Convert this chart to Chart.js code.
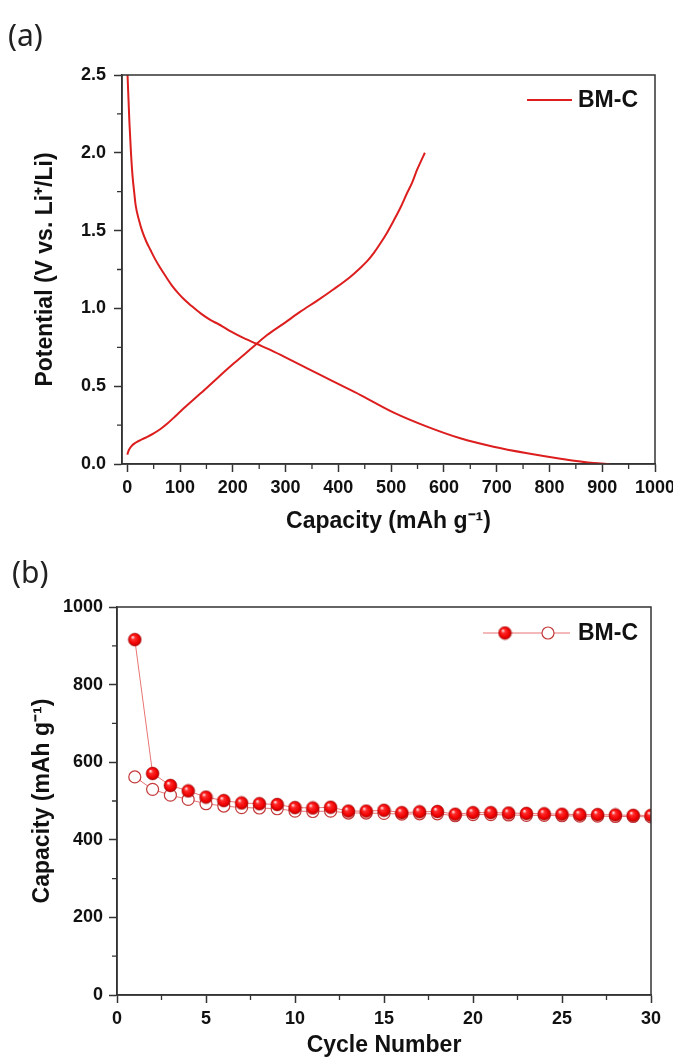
<!DOCTYPE html>
<html>
<head>
<meta charset="utf-8">
<script src="https://cdn.jsdelivr.net/npm/chart.js@4.4.1/dist/chart.umd.min.js"></script>
<style>
  body { margin: 0; background: #fff; width: 673px; height: 1057px; overflow: hidden; position: relative; }
  .panel { position: absolute; left: 0; width: 673px; }
  #boxA { top: 0; height: 540px; }
  #boxB { top: 540px; height: 517px; }
  .tag { position: absolute; font-family: 'Noto Sans', sans-serif; font-size: 30px; line-height: 1; color: #222; }
</style>
</head>
<body>
<div class="panel" id="boxA"><canvas id="voltage"></canvas></div>
<div class="panel" id="boxB"><canvas id="cycling"></canvas></div>
<div class="tag" style="left:8px;top:20px">(a)</div>
<div class="tag" style="left:12px;top:557px">(b)</div>
<script>
// (a) first charge / discharge profile
const dischargeCap = [0.5, 4, 7, 10, 13, 16, 22, 28, 36, 44, 53, 63, 74, 85, 96, 107, 122, 139, 158, 172, 180, 197, 215, 246, 270, 297, 341, 391, 442, 505, 568, 631, 694, 758, 821, 884, 914];
const dischargeV   = [2.5, 2.2, 2.0, 1.85, 1.75, 1.66, 1.57, 1.5, 1.43, 1.375, 1.315, 1.258, 1.2, 1.145, 1.1, 1.06, 1.015, 0.968, 0.925, 0.9, 0.885, 0.85, 0.818, 0.771, 0.735, 0.69, 0.615, 0.529, 0.443, 0.33, 0.24, 0.165, 0.111, 0.069, 0.034, 0.006, 0];
const chargeCap = [0, 3, 8, 15, 25, 37, 50, 63, 76, 91, 107, 139, 170, 202, 233, 265, 297, 328, 360, 391, 423, 440, 455, 468, 480, 492, 505, 518, 530, 540, 549, 557, 564];
const chargeV   = [0.06, 0.09, 0.115, 0.135, 0.154, 0.173, 0.197, 0.225, 0.26, 0.307, 0.358, 0.454, 0.55, 0.647, 0.737, 0.829, 0.904, 0.979, 1.05, 1.123, 1.204, 1.255, 1.305, 1.36, 1.42, 1.485, 1.565, 1.65, 1.74, 1.81, 1.89, 1.95, 2.0];
const capTicks = [0, 100, 200, 300, 400, 500, 600, 700, 800, 900, 1000];
const voltTicks = [0, 0.5, 1.0, 1.5, 2.0, 2.5];

// (b) cycling capacity
const cycles = [1, 2, 3, 4, 5, 6, 7, 8, 9, 10, 11, 12, 13, 14, 15, 16, 17, 18, 19, 20, 21, 22, 23, 24, 25, 26, 27, 28, 29, 30];
const dischargeCapacity = [916, 571, 540, 526, 510, 501, 495, 493, 491, 483, 482, 484, 474, 474, 476, 470, 472, 473, 466, 470, 470, 469, 468, 467, 466, 465, 465, 464, 463, 463];
const chargeCapacity    = [562, 530, 515, 504, 493, 487, 483, 482, 480, 474, 473, 474, 469, 469, 468, 466, 467, 467, 462, 465, 465, 464, 463, 463, 462, 461, 461, 460, 460, 459];
const cycleTicks = [0, 5, 10, 15, 20, 25, 30];
const capacityTicks = [0, 200, 400, 600, 800, 1000];

const seriesName = 'BM-C';
const RED = '#dc1e1e';
const FONT = "'Liberation Sans', Arial, sans-serif";
Chart.defaults.font.family = FONT;
Chart.defaults.color = '#111';

// shaded red ball used as the filled marker
function makeBall(r) {
  const s = Math.ceil(r * 2 + 2);
  const c = document.createElement('canvas');
  c.width = c.height = s;
  const g = c.getContext('2d');
  const cx = s / 2, cy = s / 2;
  const grad = g.createRadialGradient(cx - r * 0.35, cy - r * 0.4, r * 0.05, cx, cy, r);
  grad.addColorStop(0, '#ffeaea');
  grad.addColorStop(0.28, '#ff2b2b');
  grad.addColorStop(0.75, '#f00000');
  grad.addColorStop(1, '#b00000');
  g.fillStyle = grad;
  g.beginPath();
  g.arc(cx, cy, r, 0, Math.PI * 2);
  g.fill();
  g.strokeStyle = 'rgba(160,0,0,0.55)';
  g.lineWidth = 0.8;
  g.stroke();
  return c;
}
const ball = makeBall(6.5);

// frame, minor ticks and legend
const framePlugin = {
  id: 'frame',
  afterDraw(chart, args, o) {
    const { ctx, chartArea: a, scales: { x, y } } = chart;
    ctx.save();
    ctx.strokeStyle = '#333';
    ctx.lineWidth = 1.5;
    ctx.strokeRect(a.left, a.top, a.right - a.left, a.bottom - a.top);

    ctx.lineWidth = 1.3;
    ctx.beginPath();
    for (let k = Math.ceil(x.min / o.minorX); k * o.minorX <= x.max + 1e-9; k++) {
      if (k % 2 === 0) continue;
      const px = x.getPixelForValue(k * o.minorX);
      ctx.moveTo(px, a.bottom);
      ctx.lineTo(px, a.bottom + 5);
    }
    for (let k = Math.ceil(y.min / o.minorY); k * o.minorY <= y.max + 1e-9; k++) {
      if (k % 2 === 0) continue;
      const py = y.getPixelForValue(k * o.minorY);
      ctx.moveTo(a.left, py);
      ctx.lineTo(a.left - 5, py);
    }
    ctx.stroke();

    const L = o.legend;
    ctx.font = 'bold 23px ' + FONT;
    ctx.fillStyle = '#111';
    ctx.textBaseline = 'middle';
    ctx.fillText(seriesName, L.textX, L.y + 1);
    if (L.type === 'line') {
      ctx.strokeStyle = RED;
      ctx.lineWidth = 2;
      ctx.beginPath();
      ctx.moveTo(L.x0, L.y);
      ctx.lineTo(L.x1, L.y);
      ctx.stroke();
    } else {
      ctx.strokeStyle = '#e87474';
      ctx.lineWidth = 1;
      ctx.beginPath();
      ctx.moveTo(L.x0, L.y);
      ctx.lineTo(L.x1, L.y);
      ctx.stroke();
      ctx.fillStyle = '#fff';
      ctx.strokeStyle = '#c43a3a';
      ctx.lineWidth = 1.2;
      ctx.beginPath();
      ctx.arc(L.hollowX, L.y, 6, 0, Math.PI * 2);
      ctx.fill();
      ctx.stroke();
      ctx.drawImage(ball, L.ballX - ball.width / 2, L.y - ball.height / 2);
    }
    ctx.restore();
  }
};

function axis(opt) {
  return {
    type: 'linear',
    min: opt.min,
    max: opt.max,
    grid: { display: true, drawOnChartArea: false, drawTicks: true, tickLength: 8, tickColor: '#333', tickWidth: 1.5 },
    border: { display: true, color: '#333', width: 1.5 },
    ticks: {
      autoSkip: false,
      maxRotation: 0,
      padding: opt.pad,
      color: '#111',
      font: { size: 18, weight: 'bold' },
      callback: opt.fmt || (v => v)
    },
    title: {
      display: true,
      text: opt.title,
      color: '#111',
      font: { size: 23, weight: 'bold', lineHeight: 1 },
      padding: opt.titlePad
    },
    afterBuildTicks(scale) {
      scale.ticks = opt.values.map(v => ({ value: v }));
    },
    afterFit(scale) {
      if (opt.height !== undefined) scale.height = opt.height;
      if (opt.width !== undefined) scale.width = opt.width;
      scale.paddingLeft = 0;
      scale.paddingRight = 0;
      scale.paddingTop = 0;
      scale.paddingBottom = 0;
    }
  };
}

new Chart(document.getElementById('voltage'), {
  type: 'scatter',
  data: {
    datasets: [
      {
        label: seriesName,
        data: dischargeCap.map((c, i) => ({ x: c, y: dischargeV[i] })),
        showLine: true, borderColor: RED, borderWidth: 2, pointRadius: 0, cubicInterpolationMode: 'monotone'
      },
      {
        label: seriesName,
        data: chargeCap.map((c, i) => ({ x: c, y: chargeV[i] })),
        showLine: true, borderColor: RED, borderWidth: 2, pointRadius: 0, cubicInterpolationMode: 'monotone'
      }
    ]
  },
  options: {
    responsive: true,
    maintainAspectRatio: false,
    animation: false,
    layout: { padding: { left: 0, top: 75, right: 18, bottom: 0 } },
    plugins: {
      legend: { display: false },
      tooltip: { enabled: false },
      frame: { minorX: 50, minorY: 0.25, legend: { type: 'line', x0: 527, x1: 572, y: 100, textX: 578 } }
    },
    scales: {
      x: axis({ min: -10, max: 1000, values: capTicks, pad: 5, title: 'Capacity (mAh g⁻¹)', titlePad: { top: 0, bottom: 7 }, height: 76 }),
      y: axis({ min: 0, max: 2.5, values: voltTicks, pad: 8, fmt: v => v.toFixed(1), title: 'Potential (V vs. Li⁺/Li)', titlePad: { top: 34, bottom: 0 }, width: 122 })
    }
  },
  plugins: [framePlugin]
});

new Chart(document.getElementById('cycling'), {
  type: 'scatter',
  data: {
    datasets: [
      {
        label: seriesName + ' discharge',
        data: cycles.map((c, i) => ({ x: c, y: dischargeCapacity[i] })),
        showLine: true, borderColor: '#e87474', borderWidth: 1,
        pointStyle: ball, pointRadius: 6.5
      },
      {
        label: seriesName + ' charge',
        data: cycles.map((c, i) => ({ x: c, y: chargeCapacity[i] })),
        showLine: true, borderColor: '#e87474', borderWidth: 1,
        pointStyle: 'circle', pointRadius: 6, pointBorderColor: '#c43a3a',
        pointBackgroundColor: '#fff', pointBorderWidth: 1.2
      }
    ]
  },
  options: {
    responsive: true,
    maintainAspectRatio: false,
    animation: false,
    layout: { padding: { left: 0, top: 67, right: 22, bottom: 0 } },
    plugins: {
      legend: { display: false },
      tooltip: { enabled: false },
      frame: { minorX: 2.5, minorY: 100, legend: { type: 'pair', x0: 483, x1: 570, y: 93, ballX: 505, hollowX: 548, textX: 578 } }
    },
    scales: {
      x: axis({ min: 0, max: 30, values: cycleTicks, pad: 5, title: 'Cycle Number', titlePad: { top: 0, bottom: 0 }, height: 62 }),
      y: axis({ min: 0, max: 1000, values: capacityTicks, pad: 6, title: 'Capacity (mAh g⁻¹)', titlePad: { top: 31, bottom: 0 }, width: 117 })
    }
  },
  plugins: [framePlugin]
});
</script>
</body>
</html>
